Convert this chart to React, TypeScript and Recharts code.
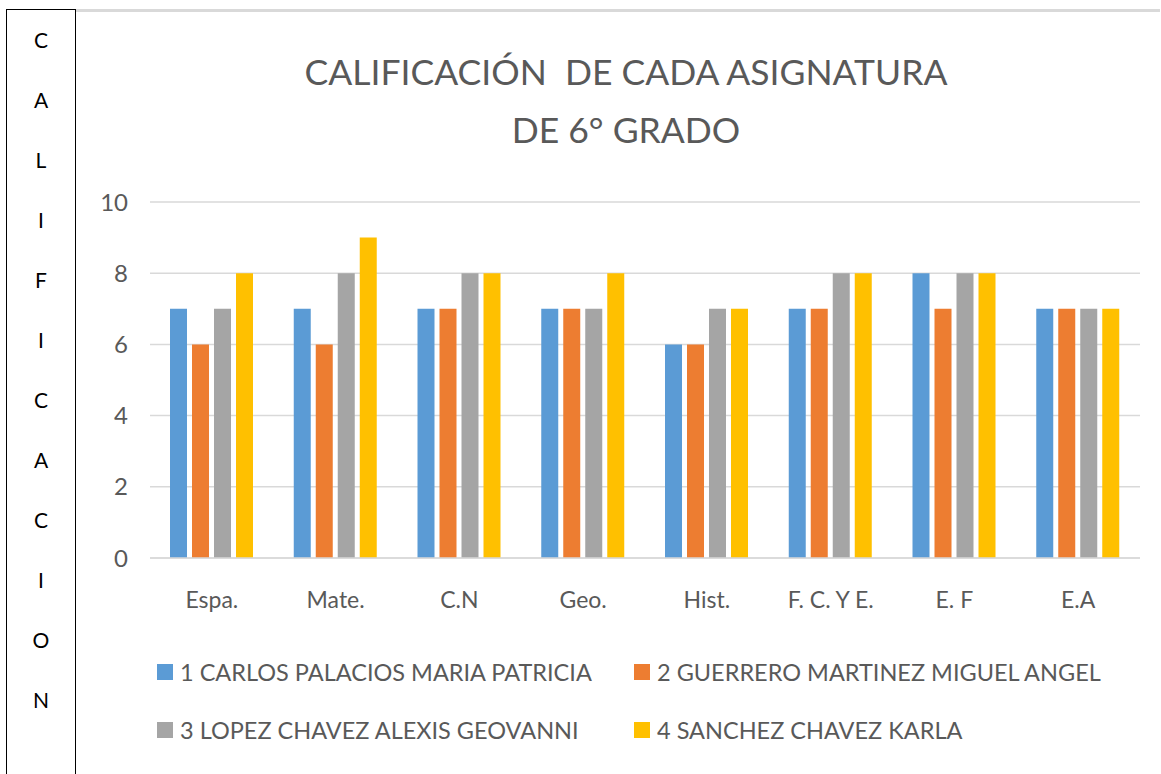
import React from 'react';
import { BarChart, Bar, XAxis, YAxis, CartesianGrid, Legend } from 'recharts';

const categories = ['Espa.', 'Mate.', 'C.N', 'Geo.', 'Hist.', 'F. C. Y E.', 'E. F', 'E.A'];
const carlos = [7, 7, 7, 7, 6, 7, 8, 7];
const guerrero = [6, 6, 7, 7, 6, 7, 7, 7];
const lopez = [7, 8, 8, 7, 7, 8, 8, 7];
const sanchez = [8, 9, 8, 8, 7, 8, 8, 7];
const seriesNames = [
  '1 CARLOS PALACIOS MARIA PATRICIA',
  '2 GUERRERO MARTINEZ MIGUEL ANGEL',
  '3 LOPEZ CHAVEZ ALEXIS GEOVANNI',
  '4 SANCHEZ CHAVEZ KARLA',
];
const colors = ['#5B9BD5', '#ED7D31', '#A5A5A5', '#FFC000'];
const yTicks = [0, 2, 4, 6, 8, 10];
const sideLetters = ['C', 'A', 'L', 'I', 'F', 'I', 'C', 'A', 'C', 'I', 'O', 'N'];

const data = categories.map((c, i) => ({
  name: c,
  s1: carlos[i],
  s2: guerrero[i],
  s3: lopez[i],
  s4: sanchez[i],
}));

const FONT = 'Lato, "Open Sans", sans-serif';

const LegendContent = () => (
  <div style={{ position: 'relative', width: 1000, height: 0, fontFamily: FONT }}>
    {seriesNames.map((n, i) => {
      const col = i % 2;
      const row = Math.floor(i / 2);
      return (
        <div
          key={n}
          style={{
            position: 'absolute',
            left: col === 0 ? 0 : 477,
            top: row * 58,
            height: 30,
            display: 'flex',
            alignItems: 'center',
            fontSize: 23.5,
            color: '#595959',
            whiteSpace: 'nowrap',
          }}
        >
          <span style={{ display: 'inline-block', width: 16, height: 16, background: colors[i], marginRight: 7 }} />
          <span>{n}</span>
        </div>
      );
    })}
  </div>
);

export default function App() {
  return (
    <div style={{ position: 'absolute', left: 0, top: 0, width: 1161, height: 774, background: '#fff', overflow: 'hidden', fontFamily: FONT }}>
      <div
        style={{
          position: 'absolute',
          left: 6,
          top: 9,
          width: 68,
          height: 800,
          border: '1px solid #000',
        }}
      />
      {sideLetters.map((l, i) => (
        <div
          key={i}
          style={{
            position: 'absolute',
            left: 6,
            width: 70,
            top: 27 + i * 60,
            textAlign: 'center',
            fontSize: 21,
            color: '#000',
            fontFamily: FONT,
          }}
        >
          {l}
        </div>
      ))}
      <div style={{ position: 'absolute', left: 76, top: 9, width: 1084, height: 3, background: '#D9D9D9' }} />
      <div
        style={{
          position: 'absolute',
          left: 76,
          width: 1100,
          top: 43,
          textAlign: 'center',
          fontSize: 35.5,
          lineHeight: '58px',
          color: '#595959',
        }}
      >
        <div>CALIFICACIÓN&nbsp; DE CADA ASIGNATURA</div>
        <div>DE 6° GRADO</div>
      </div>
      <div style={{ position: 'absolute', left: 76, top: 0 }}>
        <BarChart
          width={1085}
          height={774}
          data={data}
          margin={{ top: 202, right: 21, left: 24, bottom: 156 }}
          barGap={5}
          barSize={17}
        >
          <CartesianGrid vertical={false} stroke="#D9D9D9" strokeWidth={1.5} />
          <XAxis
            dataKey="name"
            axisLine={{ stroke: '#D9D9D9', strokeWidth: 1.5 }}
            tickLine={false}
            tick={{ fill: '#595959', fontSize: 23, fontFamily: FONT }}
            tickMargin={28}
            height={60}
            interval={0}
          />
          <YAxis
            domain={[0, 10]}
            ticks={yTicks}
            axisLine={false}
            tickLine={false}
            tick={{ fill: '#595959', fontSize: 24, fontFamily: FONT }}
            tickMargin={16}
            width={50}
          />
          <Legend
            content={<LegendContent />}
            wrapperStyle={{ position: 'absolute', left: 81, top: 657, width: 1000, height: 0 }}
          />
          <Bar dataKey="s1" name={seriesNames[0]} fill={colors[0]} isAnimationActive={false} />
          <Bar dataKey="s2" name={seriesNames[1]} fill={colors[1]} isAnimationActive={false} />
          <Bar dataKey="s3" name={seriesNames[2]} fill={colors[2]} isAnimationActive={false} />
          <Bar dataKey="s4" name={seriesNames[3]} fill={colors[3]} isAnimationActive={false} />
        </BarChart>
      </div>
    </div>
  );
}
